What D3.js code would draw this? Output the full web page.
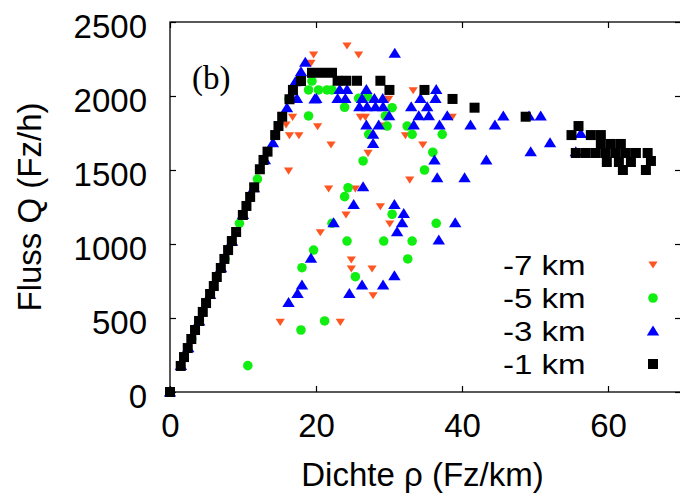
<!DOCTYPE html>
<html>
<head>
<meta charset="utf-8">
<script src="https://cdn.jsdelivr.net/npm/d3@7"></script>
<style>
  body { margin: 0; background: #fff; }
  text { font-family: "Liberation Sans", Arial, sans-serif; fill: #000; }
</style>
</head>
<body>
<svg id="chart" width="680" height="496"></svg>
<script>
// data: [density Fz/km, flow Fz/h]
var km7 = [[24.25,2338],[19.67,2277],[25.84,2277],[19.31,2221],[33.31,2036],[29.96,1978],[38.66,1856],
  [16.79,1856],[26.08,1856],[26.76,1856],[20.22,1793],[16.37,1732],[17.66,1732],[32.25,1732],[22.06,1669],
  [34.63,1669],[27.13,1613],[16.24,1493],[32.84,1432],[21.73,1372],[25.39,1372],[28.82,1252],[24.11,1196],
  [30.1,1135],[20.59,1076],[24.84,892],[24.84,831],[27.68,831],[27.82,651],[15.1,471],[23.33,471],
  [5.49,655],[15.9,1804],[29.05,1797],[3.4,420],[9.0,1080]];
var km5 = [[19.45,2101],[18.98,2041],[20.35,2041],[21.51,2041],[22.19,2041],[23.92,1924],[25.84,1984],
  [27.08,1995],[30.43,1921],[29.51,1865],[29.74,1797],[32.49,1797],[33.17,1741],[37.29,1741],[27.22,1741],
  [18.98,1865],[36.0,1620],[26.45,1561],[34.86,1500],[24.39,1380],[23.92,1320],[30.43,1201],[22.19,1140],
  [36.47,1140],[24.25,1020],[29.28,1020],[33.17,1020],[19.67,959],[32.57,899],[18.08,840],[25.39,779],
  [21.18,480],[17.94,419],[10.66,178],[2.98,358],[7.55,899],[9.51,1140],[11.98,1439],[16.3,1980]];
var km3 = [[30.79,2289],[18.53,2228],[17.94,2164],[17.39,1984],[20.04,1984],[23.24,2045],[24.25,2045],
  [22.96,1984],[24.02,1984],[26.9,2045],[26.31,1984],[28.0,1984],[29.14,1984],[25.94,1928],[27.0,1928],
  [28.14,1928],[29.19,1928],[30.02,1867],[26.9,1804],[28.59,1804],[27.82,1743],[27.82,1680],[36.47,2045],
  [36.37,1984],[34.31,1984],[33.04,1928],[35.23,1928],[34.08,1867],[35.45,1867],[37.98,1867],[33.39,1804],
  [36.92,1804],[41.17,1804],[45.66,1865],[49.18,1865],[50.78,1865],[44.51,1804],[56.27,1748],[52.06,1684],
  [49.41,1624],[55.59,1624],[43.33,1568],[36.23,1568],[36.6,1448],[40.35,1448],[26.45,1387],[25.16,1268],
  [30.74,1268],[32.02,1207],[31.8,1144],[39.07,1144],[31.11,1083],[22.41,1144],[36.82,1027],[19.31,905],
  [30.74,786],[18.08,723],[26.31,723],[29.19,723],[17.47,667],[24.57,667],[16.24,606],[16.02,1922],
  [14.1,1684],[17.16,2097],[19.81,1980],[0,0],[1.5,180],[2.5,300],[4.0,480],[5.5,660],[7.0,840],
  [8.5,1020],[10.0,1200],[11.5,1380],[13.0,1570]];
var km1 = [[0,0],[1.47,176],[1.92,236],[2.43,297],[2.92,358],[3.43,419],[3.98,480],[4.49,541],[4.94,601],
  [5.49,662],[6.0,716],[6.41,777],[6.96,838],[7.45,899],[7.96,959],[8.47,1020],[9.06,1081],[9.98,1196],
  [10.47,1257],[10.98,1318],[11.53,1383],[12.31,1505],[12.81,1568],[13.36,1624],[14.41,1736],[14.86,1797],
  [15.37,1860],[16.37,1978],[16.84,2041],[17.94,2101],[19.45,2157],[20.82,2157],[22.19,2157],[22.96,2103],
  [24.16,2103],[25.62,2103],[28.82,2103],[30.06,2041],[34.86,2041],[38.7,1980],[41.72,1921],[48.72,1860],
  [55.96,1797],[55.0,1736],[57.65,1736],[59.02,1736],[59.02,1676],[60.39,1676],[61.76,1676],[55.59,1615],
  [56.96,1615],[58.33,1615],[59.7,1615],[61.08,1615],[62.45,1615],[63.82,1615],[65.43,1615],[59.84,1554],
  [61.49,1554],[63.14,1554],[65.88,1561],[62.04,1500],[65.19,1500]];

var seriesNames = ["-7 km", "-5 km", "-3 km", "-1 km"];
var seriesData = [km7, km5, km3, km1];
var seriesColours = ["#ff5522", "#11ee11", "#0000ff", "#000000"];
var xTicks = [0, 20, 40, 60];
var yTicks = [0, 500, 1000, 1500, 2000, 2500];

var LEFT = 170, TOP = 22, RIGHT = 681, BOTTOM = 392;

var svg = d3.select("#chart");

var x = d3.scaleLinear().domain([0, 70]).range([LEFT, RIGHT]);
var y = d3.scaleLinear().domain([0, 2500]).range([BOTTOM, TOP]);

// marker shapes, one per series
function marker(sel, i) {
    if (i === 0) { // down triangle
        sel.append("path").attr("d", "M-4.6,-3.5L4.6,-3.5L0,3.6Z");
    } else if (i === 1) { // circle
        sel.append("circle").attr("r", 4.8);
    } else if (i === 2) { // up triangle
        sel.append("path").attr("d", "M-6.2,4.6L6.2,4.6L0,-5.4Z");
    } else { // square
        sel.append("rect").attr("x", -5).attr("y", -5).attr("width", 10).attr("height", 10);
    }
}

// points, drawn in order so -1 km sits on top
seriesData.forEach(function (data, i) {
    svg.append("g")
        .attr("fill", seriesColours[i])
        .selectAll("g")
        .data(data)
        .enter().append("g")
        .attr("transform", function (d) { return "translate(" + x(d[0]) + "," + y(d[1]) + ")"; })
        .each(function () { marker(d3.select(this), i); });
});

// axes with inward ticks
var gx = svg.append("g")
    .attr("transform", "translate(0," + BOTTOM + ")")
    .call(d3.axisBottom(x).tickValues(xTicks).tickFormat(d3.format("d"))
        .tickSizeInner(-6).tickSizeOuter(0).tickPadding(22));
var gy = svg.append("g")
    .attr("transform", "translate(" + LEFT + ",0)")
    .call(d3.axisLeft(y).tickValues(yTicks).tickFormat(d3.format("d"))
        .tickSizeInner(-6).tickSizeOuter(0).tickPadding(23));
svg.append("g")
    .attr("transform", "translate(0," + TOP + ")")
    .call(d3.axisTop(x).tickValues(xTicks).tickSizeInner(-6).tickSizeOuter(0).tickFormat(""));
svg.append("g")
    .attr("transform", "translate(" + RIGHT + ",0)")
    .call(d3.axisRight(y).tickValues(yTicks).tickSizeInner(-6).tickSizeOuter(0).tickFormat(""));

svg.selectAll(".domain").remove();
svg.selectAll(".tick line").attr("stroke", "#000").attr("stroke-width", 1.2);
svg.selectAll(".tick text")
    .attr("font-family", "Liberation Sans, Arial, sans-serif")
    .attr("font-size", 33)
    .attr("fill", "#000");
gy.selectAll(".tick text").attr("dy", "0.48em");

// frame
svg.append("rect")
    .attr("x", LEFT).attr("y", TOP)
    .attr("width", RIGHT - LEFT).attr("height", BOTTOM - TOP)
    .attr("fill", "none").attr("stroke", "#000").attr("stroke-width", 1.3);

// axis titles
svg.append("text")
    .attr("x", (LEFT + RIGHT) / 2 - 3).attr("y", 486)
    .attr("text-anchor", "middle").attr("font-size", 33)
    .text("Dichte ρ (Fz/km)");
svg.append("text")
    .attr("transform", "translate(41," + (TOP + BOTTOM) / 2 + ") rotate(-90)")
    .attr("text-anchor", "middle").attr("font-size", 33)
    .text("Fluss Q (Fz/h)");

// panel label
svg.append("text")
    .attr("x", 192).attr("y", 89)
    .style("font-family", "Liberation Serif, Times New Roman, serif")
    .attr("font-size", 33)
    .text("(b)");

// legend
var legend = svg.append("g")
    .selectAll("g")
    .data(seriesNames)
    .enter().append("g")
    .attr("transform", function (d, i) { return "translate(0," + (264 + i * 33) + ")"; });
legend.append("text")
    .attr("transform", "translate(503,11) scale(1.18,1)")
    .attr("font-size", 28)
    .text(function (d) { return d; });
legend.append("g")
    .attr("transform", "translate(653,1)")
    .attr("fill", function (d, i) { return seriesColours[i]; })
    .each(function (d, i) { marker(d3.select(this), i); });
</script>
</body>
</html>
